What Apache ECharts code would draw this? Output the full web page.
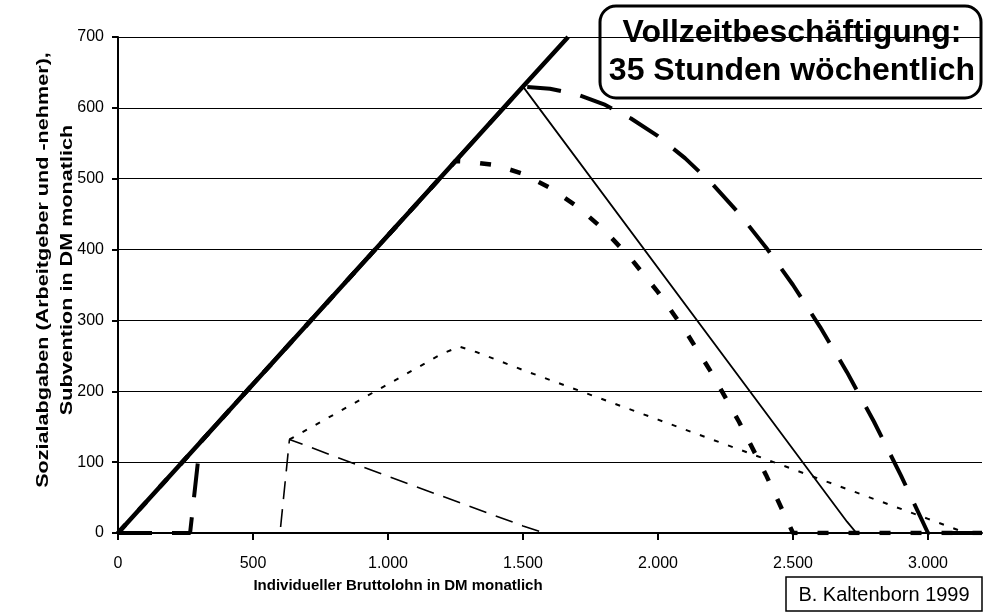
<!DOCTYPE html>
<html>
<head>
<meta charset="utf-8">
<title>Sozialabgaben und Subvention</title>
<script src="https://cdn.jsdelivr.net/npm/echarts@6.0.0/dist/echarts.min.js"></script>
<style>
  html, body { margin: 0; padding: 0; background: #fff; }
  #chart { width: 983px; height: 612px; }
</style>
</head>
<body>
<div id="chart"></div>
<script>
    // x-Achse: Bruttolohn in DM, y-Achse: DM monatlich
    var xTicks = [0, 500, 1000, 1500, 2000, 2500, 3000];
    var yTicks = [0, 100, 200, 300, 400, 500, 600, 700];

    // Sozialabgaben ohne Subvention (dicke Linie)
    var fullContrib = [[0, 0], [1250, 525], [1500, 630], [1667, 700]];
    // Subvention, linearer Abbau (dünne Linie)
    var linearCut = [[1500, 630], [2700, 16], [2735, 0]];
    // lang gestrichelt, dick
    var longDash = [[0, 0], [267, 0], [304, 128], [1500, 630], [1600, 627], [1700, 619], [1800, 605],
        [1900, 585], [2000, 560], [2100, 529], [2200, 493], [2300, 451], [2400, 403], [2500, 350],
        [2600, 291], [2700, 227], [2800, 157], [2900, 81], [3000, 0], [3200, 0]];
    // kurz gestrichelt, dick
    var shortDash = [[0, 0], [1250, 525], [1300, 524], [1400, 519], [1500, 507], [1600, 487], [1700, 461],
        [1800, 428], [1900, 387], [2000, 340], [2100, 286], [2200, 225], [2300, 157], [2400, 82],
        [2500, 0], [3200, 0]];
    // dünn gestrichelt
    var thinDash = [[0, 0], [600, 0], [635, 132], [1000, 80], [1300, 38], [1500, 10], [1580, 0], [3200, 0]];
    // dünn gepunktet
    var thinDot = [[635, 132], [1000, 210], [1200, 253], [1265, 263], [1330, 255], [1500, 230], [2000, 160],
        [2500, 90], [3000, 20], [3140, 0], [3200, 0]];

    var chart = echarts.init(document.getElementById('chart'));

    function lineSeries(data, width, type, z) {
        return {
            type: 'line',
            data: data,
            symbol: 'none',
            z: z || 2,
            lineStyle: {color: '#000', width: width, type: type, cap: 'butt'}
        };
    }

    var option = {
        animation: false,
        backgroundColor: '#fff',
        textStyle: {fontFamily: 'Liberation Sans, Arial, sans-serif'},
        grid: {left: 118, right: 1, top: 37, bottom: 79},
        xAxis: {
            type: 'value',
            min: 0,
            max: 3200,
            interval: 500,
            axisLine: {show: true, lineStyle: {color: '#000', width: 2}},
            axisTick: {show: true, length: 7, customValues: xTicks, lineStyle: {color: '#000', width: 2}},
            splitLine: {show: false},
            axisLabel: {
                customValues: xTicks,
                margin: 23,
                color: '#000',
                fontSize: 16,
                formatter: function (v) {
                    return v >= 1000 ? Math.floor(v / 1000) + '.' + String(v % 1000).padStart(3, '0') : String(v);
                }
            }
        },
        yAxis: {
            type: 'value',
            min: 0,
            max: 700,
            interval: 100,
            axisLine: {show: true, lineStyle: {color: '#000', width: 2}},
            axisTick: {show: true, length: 6, lineStyle: {color: '#000', width: 2}},
            splitLine: {show: true, lineStyle: {color: '#000', width: 1}},
            axisLabel: {margin: 14, color: '#000', fontSize: 16}
        },
        series: [
            lineSeries(thinDot, 2, [5, 10]),
            lineSeries(thinDash, 1.6, [18, 10]),
            lineSeries(linearCut, 1.8, 'solid'),
            lineSeries(shortDash, 4.5, [11, 20]),
            lineSeries(longDash, 4, [34, 20]),
            lineSeries(fullContrib, 4.5, 'solid', 3)
        ],
        graphic: [
            {
                // Achsentitel ist im Original in Leserichtung gestreckt
                type: 'text',
                x: 56,
                y: 270,
                rotation: Math.PI / 2,
                scaleX: 1.35,
                style: {
                    text: 'Sozialabgaben (Arbeitgeber und -nehmer),\nSubvention in DM monatlich',
                    fill: '#000',
                    font: 'bold 16px Liberation Sans, Arial, sans-serif',
                    align: 'center',
                    verticalAlign: 'middle',
                    lineHeight: 24
                }
            },
            {
                type: 'text',
                x: 398,
                y: 586,
                style: {
                    text: 'Individueller Bruttolohn in DM monatlich',
                    fill: '#000',
                    font: 'bold 15px Liberation Sans, Arial, sans-serif',
                    align: 'center',
                    verticalAlign: 'middle'
                }
            },
            {
                type: 'group',
                z: 100,
                children: [
                    {
                        type: 'rect',
                        shape: {x: 600, y: 6, width: 381, height: 92, r: 16},
                        style: {fill: '#fff', stroke: '#000', lineWidth: 3}
                    },
                    {
                        type: 'text',
                        x: 792,
                        y: 52,
                        style: {
                            text: 'Vollzeitbeschäftigung:\n35 Stunden wöchentlich',
                            fill: '#000',
                            font: 'bold 32px Liberation Sans, Arial, sans-serif',
                            align: 'center',
                            verticalAlign: 'middle',
                            lineHeight: 38
                        }
                    }
                ]
            },
            {
                type: 'group',
                z: 100,
                children: [
                    {
                        type: 'rect',
                        shape: {x: 786, y: 577, width: 196, height: 34},
                        style: {fill: '#fff', stroke: '#000', lineWidth: 1.5}
                    },
                    {
                        type: 'text',
                        x: 884,
                        y: 595,
                        style: {
                            text: 'B. Kaltenborn 1999',
                            fill: '#000',
                            font: '20px Liberation Sans, Arial, sans-serif',
                            align: 'center',
                            verticalAlign: 'middle'
                        }
                    }
                ]
            }
        ]
    };

    chart.setOption(option);
</script>
</body>
</html>
